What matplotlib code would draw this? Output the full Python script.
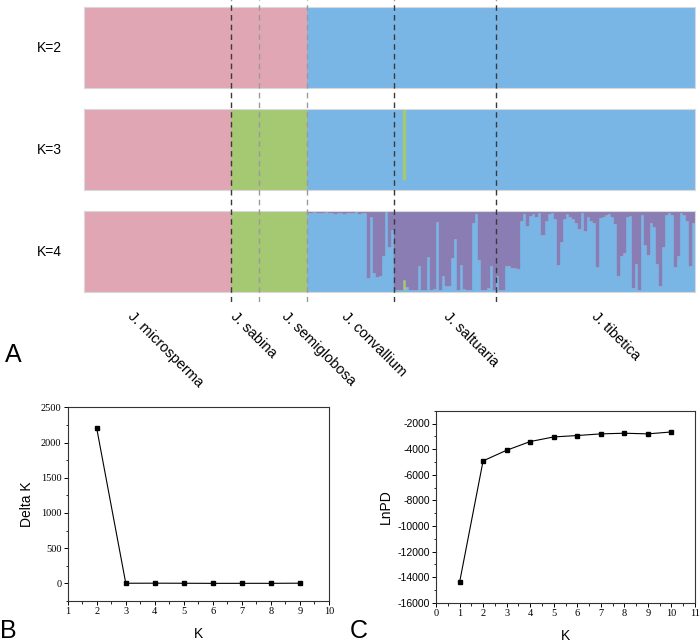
import matplotlib.pyplot as plt
import matplotlib.transforms as mtransforms
import numpy as np
from matplotlib.ticker import MultipleLocator

plt.rcParams['font.family'] = ['Liberation Sans', 'DejaVu Sans']
plt.rcParams['axes.unicode_minus'] = False

# --- STRUCTURE membership data ---
species = ['J. microsperma', 'J. sabina', 'J. semiglobosa',
           'J. convallium', 'J. saltuaria', 'J. tibetica']
n_micro, n_sabina, n_semi = 49, 9, 16

# K=4: share of the blue cluster per individual (rest purple)
conv_blue_k4 = [0.97, 0.98, 0.99, 0.98, 0.97, 0.98, 0.99, 0.97, 0.98, 0.96,
                0.97, 0.98, 0.96, 0.97, 0.98, 0.97, 0.99, 0.96, 0.97, 0.98,
                0.17, 0.93, 0.23, 0.18, 0.20, 0.45, 0.99, 0.55, 0.77]
salt_blue_k4 = [0.03, 0.02, 0.02, 0.03, 0.06, 0.02, 0.02, 0.03, 0.32, 0.02,
                0.02, 0.43, 0.03, 0.04, 0.87, 0.03, 0.20, 0.08, 0.07, 0.42,
                0.65, 0.03, 0.33, 0.04, 0.03, 0.03, 0.85, 0.96, 0.40, 0.03,
                0.02, 0.05, 0.32, 0.03]
tib_blue_k4 = [0.20, 0.02, 0.02, 0.32, 0.32, 0.30, 0.30, 0.28, 0.88, 0.96,
               0.82, 0.94, 0.96, 0.92, 0.97, 0.70, 0.88, 0.96, 0.98, 0.90,
               0.33, 0.62, 0.90, 0.96, 0.93, 0.90, 0.85, 0.78, 0.97, 0.75,
               0.92, 0.88, 0.85, 0.31, 0.91, 0.93, 0.95, 0.96, 0.92, 0.84,
               0.20, 0.45, 0.48, 0.93, 0.94, 0.05, 0.35, 0.03, 0.95, 0.58,
               0.46, 0.85, 0.80, 0.35, 0.07, 0.55, 0.95, 0.97, 0.95, 0.31,
               0.45, 0.97, 0.95, 0.88, 0.32, 0.85]
# one admixed saltuaria individual carrying the green cluster
salt_green_idx = 3
salt_green_k3 = 0.88
salt_green_k4 = 0.12

# --- Evanno / LnP(D) ---
k_delta = [2, 3, 4, 5, 6, 7, 8, 9]
delta_k = [2200, 2, 3, 2, 0.5, 1, 1, 3]
k_lnpd = [1, 2, 3, 4, 5, 6, 7, 8, 9, 10]
ln_pd = [-14420, -4920, -4090, -3410, -3050, -2940, -2810, -2760, -2810, -2660]

pink = '#e0a6b4'
green = '#a5c873'
blue = '#79b6e6'
purple = '#8a7db3'

counts = [n_micro, n_sabina, n_semi, len(conv_blue_k4), len(salt_blue_k4), len(tib_blue_k4)]
bounds = np.cumsum(counts)
N = bounds[-1]
idx = np.arange(N)
salt0 = bounds[3]

def memberships(k):
    b = np.zeros(N); g = np.zeros(N); p = np.zeros(N); v = np.zeros(N)
    if k == 2:
        p[:bounds[2]] = 1
        b[bounds[2]:] = 1
    else:
        p[:bounds[0]] = 1
        g[bounds[0]:bounds[2]] = 1
        if k == 3:
            b[bounds[2]:] = 1
            g[salt0 + salt_green_idx] = salt_green_k3
            b[salt0 + salt_green_idx] = 1 - salt_green_k3
        else:
            b[bounds[2]:] = np.concatenate([conv_blue_k4, salt_blue_k4, tib_blue_k4])
            g[salt0 + salt_green_idx] = salt_green_k4
            v[bounds[2]:] = 1 - b[bounds[2]:] - g[bounds[2]:]
    return [(b, blue), (g, green), (p, pink), (v, purple)]

fig = plt.figure(figsize=(7, 6.43), dpi=100)
W, H = 700, 643
left_px, right_px = 84, 695

panels = [(2, 7.3, 88.3), (3, 109.3, 189.7), (4, 211, 292)]
for k, top, bot in panels:
    ax = fig.add_axes([left_px / W, 1 - bot / H, (right_px - left_px) / W, (bot - top) / H])
    base = np.zeros(N)
    for vals, col in memberships(k):
        ax.bar(idx, vals, width=1.0, bottom=base, align='edge', color=col,
               edgecolor=col, linewidth=0.3)
        base = base + vals
    ax.set_xlim(0, N)
    ax.set_ylim(0, 1)
    ax.set_xticks([]); ax.set_yticks([])
    for s in ax.spines.values():
        s.set_color('#d9d9d9'); s.set_linewidth(0.8)
    ax.text(-22 / (right_px - left_px), 0.5, 'K=%d' % k, transform=ax.transAxes,
            ha='right', va='center', fontsize=10)

# dashed species boundaries across the three panels
ov = fig.add_axes([left_px / W, 1 - 302 / H, (right_px - left_px) / W, 302 / H])
ov.set_xlim(0, N); ov.set_ylim(0, 1); ov.axis('off')
line_cols = ['#3a3a3a', '#9a9a9a', '#9a9a9a', '#3a3a3a', '#3a3a3a']
for xb, lc in zip(bounds[:-1], line_cols):
    ov.axvline(xb, color=lc, linestyle=(0, (4, 3)), linewidth=1.0)

# species labels
starts = np.concatenate([[0], bounds[:-1]])
centers = (starts + bounds) / 2
label_shift = [-7.5, -2.5, 2, -0.5, 2, 1]
trans = mtransforms.blended_transform_factory(ov.transData, fig.transFigure)
for name, c, sh in zip(species, centers, label_shift):
    fig.text(c + sh, 1 - 309 / H, name, transform=trans, rotation=-45,
             rotation_mode='anchor', ha='left', va='top', fontsize=10.5)

fig.text(5 / W, 1 - 362 / H, 'A', fontsize=18, ha='left', va='baseline')
fig.text(0 / W, 1 - 638 / H, 'B', fontsize=18, ha='left', va='baseline')
fig.text(350 / W, 1 - 638 / H, 'C', fontsize=18, ha='left', va='baseline')

serif = 'Liberation Serif'

def style(ax):
    for s in ax.spines.values():
        s.set_linewidth(0.8); s.set_color('#333333')
    ax.tick_params(which='both', direction='out', top=False, right=False,
                   labelsize=7.5, pad=1.5)
    ax.tick_params(which='major', length=3, width=0.7)
    ax.tick_params(which='minor', length=1.8, width=0.6)

# B: Delta K
axb = fig.add_axes([67.7 / W, 1 - 601 / H, (329 - 67.7) / W, (601 - 407.3) / H])
axb.plot(k_delta, delta_k, color='black', linewidth=0.8, marker='s', markersize=3.5)
axb.set_xlim(1, 10); axb.set_ylim(-250, 2500)
bx = list(range(1, 11))
by = [0, 500, 1000, 1500, 2000, 2500]
axb.set_xticks(bx, [str(v) for v in bx], fontfamily=serif)
axb.set_yticks(by, [str(v) for v in by], fontfamily=serif)
axb.xaxis.set_minor_locator(MultipleLocator(0.5))
axb.yaxis.set_minor_locator(MultipleLocator(250))
style(axb)
axb.set_xlabel('K', fontsize=10, labelpad=8)
axb.set_ylabel('Delta K', fontsize=10, labelpad=5)

# C: LnP(D)
axc = fig.add_axes([436 / W, 1 - 602.7 / H, (695 - 436) / W, (602.7 - 410.7) / H])
axc.plot(k_lnpd, ln_pd, color='black', linewidth=0.8, marker='s', markersize=3.5)
axc.set_xlim(0, 11); axc.set_ylim(-16000, -1000)
cx = list(range(0, 12))
axc.set_xticks(cx, [str(v) for v in cx], fontfamily=serif)
axc.yaxis.set_major_locator(MultipleLocator(2000))
axc.xaxis.set_minor_locator(MultipleLocator(0.5))
axc.yaxis.set_minor_locator(MultipleLocator(1000))
style(axc)
axc.set_xlabel('K', fontsize=10, labelpad=8)
axc.set_ylabel('LnPD', fontsize=10, labelpad=3)

fig.savefig('out.png', dpi=100)
